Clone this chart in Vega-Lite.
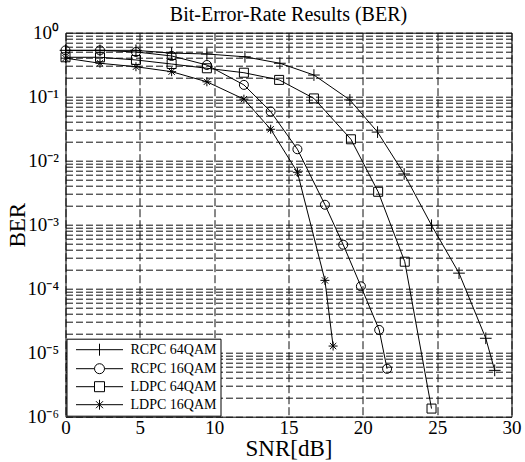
{
  "$schema": "https://vega.github.io/schema/vega-lite/v6.json",
  "width": 446,
  "height": 384,
  "autosize": {"type": "none"},
  "padding": {"left": 65.5, "top": 32.7, "right": 13.5, "bottom": 45.3},
  "background": "white",
  "config": {
    "view": {"stroke": "black", "strokeWidth": 1},
    "font": "Liberation Serif"
  },
  "title": {
    "text": "Bit-Error-Rate Results (BER)",
    "fontSize": 20,
    "fontWeight": "normal",
    "font": "Liberation Serif",
    "color": "black",
    "anchor": "middle",
    "baseline": "alphabetic",
    "offset": 7,
    "dy": 24
  },
  "data": {
    "values": [
      {"series": "RCPC 64QAM", "snr": 0, "ber": 0.53},
      {"series": "RCPC 64QAM", "snr": 2.32, "ber": 0.53},
      {"series": "RCPC 64QAM", "snr": 4.74, "ber": 0.53},
      {"series": "RCPC 64QAM", "snr": 7.14, "ber": 0.48},
      {"series": "RCPC 64QAM", "snr": 9.51, "ber": 0.465},
      {"series": "RCPC 64QAM", "snr": 12.07, "ber": 0.42},
      {"series": "RCPC 64QAM", "snr": 14.42, "ber": 0.333},
      {"series": "RCPC 64QAM", "snr": 16.71, "ber": 0.218},
      {"series": "RCPC 64QAM", "snr": 19.13, "ber": 0.089},
      {"series": "RCPC 64QAM", "snr": 20.99, "ber": 0.028},
      {"series": "RCPC 64QAM", "snr": 22.78, "ber": 0.0062},
      {"series": "RCPC 64QAM", "snr": 24.62, "ber": 0.00098},
      {"series": "RCPC 64QAM", "snr": 26.47, "ber": 0.000175},
      {"series": "RCPC 64QAM", "snr": 28.27, "ber": 0.0000168},
      {"series": "RCPC 64QAM", "snr": 28.87, "ber": 0.0000053},
      {"series": "RCPC 16QAM", "snr": 0, "ber": 0.53},
      {"series": "RCPC 16QAM", "snr": 2.32, "ber": 0.53},
      {"series": "RCPC 16QAM", "snr": 4.74, "ber": 0.5},
      {"series": "RCPC 16QAM", "snr": 7.14, "ber": 0.433},
      {"series": "RCPC 16QAM", "snr": 9.51, "ber": 0.313},
      {"series": "RCPC 16QAM", "snr": 12.0, "ber": 0.153},
      {"series": "RCPC 16QAM", "snr": 13.8, "ber": 0.0586},
      {"series": "RCPC 16QAM", "snr": 15.6, "ber": 0.0151},
      {"series": "RCPC 16QAM", "snr": 17.45, "ber": 0.00205},
      {"series": "RCPC 16QAM", "snr": 18.68, "ber": 0.000487},
      {"series": "RCPC 16QAM", "snr": 19.87, "ber": 0.000109},
      {"series": "RCPC 16QAM", "snr": 21.1, "ber": 0.0000227},
      {"series": "RCPC 16QAM", "snr": 21.63, "ber": 0.0000056},
      {"series": "LDPC 64QAM", "snr": 0, "ber": 0.413},
      {"series": "LDPC 64QAM", "snr": 2.32, "ber": 0.413},
      {"series": "LDPC 64QAM", "snr": 4.74, "ber": 0.375},
      {"series": "LDPC 64QAM", "snr": 7.14, "ber": 0.324},
      {"series": "LDPC 64QAM", "snr": 9.51, "ber": 0.278},
      {"series": "LDPC 64QAM", "snr": 12.0, "ber": 0.237},
      {"series": "LDPC 64QAM", "snr": 14.37, "ber": 0.183},
      {"series": "LDPC 64QAM", "snr": 16.71, "ber": 0.094},
      {"series": "LDPC 64QAM", "snr": 19.2, "ber": 0.0216},
      {"series": "LDPC 64QAM", "snr": 21.03, "ber": 0.00327},
      {"series": "LDPC 64QAM", "snr": 22.82, "ber": 0.000264},
      {"series": "LDPC 64QAM", "snr": 24.62, "ber": 0.00000134},
      {"series": "LDPC 16QAM", "snr": 0, "ber": 0.4},
      {"series": "LDPC 16QAM", "snr": 2.32, "ber": 0.333},
      {"series": "LDPC 16QAM", "snr": 4.74, "ber": 0.294},
      {"series": "LDPC 16QAM", "snr": 7.14, "ber": 0.246},
      {"series": "LDPC 16QAM", "snr": 9.51, "ber": 0.171},
      {"series": "LDPC 16QAM", "snr": 12.0, "ber": 0.0915},
      {"series": "LDPC 16QAM", "snr": 13.8, "ber": 0.031},
      {"series": "LDPC 16QAM", "snr": 15.6, "ber": 0.0066},
      {"series": "LDPC 16QAM", "snr": 17.45, "ber": 0.000135},
      {"series": "LDPC 16QAM", "snr": 18.0, "ber": 0.0000127}
    ]
  },
  "encoding": {
    "x": {
      "field": "snr",
      "type": "quantitative",
      "scale": {"domain": [0, 30], "nice": false, "zero": false},
      "axis": {
        "title": "SNR[dB]",
        "titleFont": "Liberation Serif",
        "titleFontSize": 23,
        "titleFontWeight": "normal",
        "titleColor": "black",
        "titlePadding": 0,
        "values": [0, 5, 10, 15, 20, 25, 30],
        "labelFont": "Liberation Serif",
        "labelFontSize": 19,
        "labelColor": "black",
        "labelFlush": false,
        "labelPadding": 2,
        "ticks": false,
        "domain": false,
        "grid": true,
        "gridColor": "#111",
        "gridDash": [8, 3],
        "gridWidth": 1,
        "gridOpacity": 1
      }
    },
    "y": {
      "field": "ber",
      "type": "quantitative",
      "scale": {"type": "log", "domain": [0.000001, 1], "nice": false},
      "axis": {
        "title": "BER",
        "titleFont": "Liberation Serif",
        "titleFontSize": 23,
        "titleFontWeight": "normal",
        "titleColor": "black",
        "titlePadding": -3,
        "values": [0.000001, 0.000002, 0.000003, 0.000004, 0.000005, 0.000006, 0.000007, 0.000008, 0.000009,
                   0.00001, 0.00002, 0.00003, 0.00004, 0.00005, 0.00006, 0.00007, 0.00008, 0.00009,
                   0.0001, 0.0002, 0.0003, 0.0004, 0.0005, 0.0006, 0.0007, 0.0008, 0.0009,
                   0.001, 0.002, 0.003, 0.004, 0.005, 0.006, 0.007, 0.008, 0.009,
                   0.01, 0.02, 0.03, 0.04, 0.05, 0.06, 0.07, 0.08, 0.09,
                   0.1, 0.2, 0.3, 0.4, 0.5, 0.6, 0.7, 0.8, 0.9, 1],
        "labelExpr": "datum.value == 1 ? '10⁰' : datum.value == 0.1 ? '10⁻¹' : datum.value == 0.01 ? '10⁻²' : datum.value == 0.001 ? '10⁻³' : datum.value == 0.0001 ? '10⁻⁴' : datum.value == 0.00001 ? '10⁻⁵' : datum.value == 0.000001 ? '10⁻⁶' : ''",
        "labelFont": "Liberation Serif",
        "labelFontSize": 19,
        "labelColor": "black",
        "labelFlush": false,
        "labelOverlap": false,
        "labelPadding": 7,
        "labelBaseline": "middle",
        "ticks": false,
        "domain": false,
        "grid": true,
        "gridColor": "#111",
        "gridDash": [7, 3],
        "gridWidth": 1,
        "gridOpacity": 1
      }
    }
  },
  "resolve": {"scale": {"shape": "independent"}, "legend": {"shape": "independent"}},
  "layer": [
    {
      "mark": {"type": "line", "color": "black", "strokeWidth": 1},
      "encoding": {"detail": {"field": "series", "type": "nominal"}}
    },
    {
      "mark": {"type": "point", "filled": false, "color": "black", "strokeWidth": 1, "size": 81, "opacity": 1},
      "encoding": {
        "shape": {
          "field": "series",
          "type": "nominal",
          "scale": {
            "domain": ["RCPC 64QAM", "RCPC 16QAM", "LDPC 64QAM", "LDPC 16QAM"],
            "range": ["M-1.3,0L1.3,0M0,-1.3L0,1.3", "circle", "square", "M-1,0L1,0M0,-1L0,1M-0.7,-0.7L0.7,0.7M-0.7,0.7L0.7,-0.7"]
          },
          "legend": null
        }
      }
    },
    {
      "transform": [{"filter": "datum.snr < 0"}],
      "mark": {"type": "point", "filled": false, "color": "black", "strokeWidth": 1, "size": 100, "opacity": 1},
      "encoding": {
        "shape": {
          "field": "series",
          "type": "nominal",
          "scale": {
            "domain": ["RCPC 64QAM", "RCPC 16QAM", "LDPC 64QAM", "LDPC 16QAM"],
            "range": [
              "M-4.7,0L4.7,0M0,-1.2L0,1.2",
              "M-4.7,0L-1,0M1,0L4.7,0M1,0A1,1,0,1,1,-1,0A1,1,0,1,1,1,0",
              "M-4.7,0L-1,0M1,0L4.7,0M-1,-1L1,-1L1,1L-1,1Z",
              "M-4.7,0L4.7,0M0,-1L0,1M-0.7,-0.7L0.7,0.7M-0.7,0.7L0.7,-0.7"
            ]
          },
          "legend": {
            "title": null,
            "orient": "bottom-left",
            "offset": 1,
            "padding": 4,
            "fillColor": "white",
            "strokeColor": "black",
            "cornerRadius": 0,
            "labelFont": "Liberation Serif",
            "labelFontSize": 14,
            "labelColor": "black",
            "symbolSize": 100,
            "symbolStrokeWidth": 1,
            "symbolStrokeColor": "black",
            "symbolFillColor": "transparent",
            "symbolOpacity": 1,
            "rowPadding": 4,
            "symbolOffset": 22,
            "labelOffset": 24
          }
        }
      }
    }
  ]
}
